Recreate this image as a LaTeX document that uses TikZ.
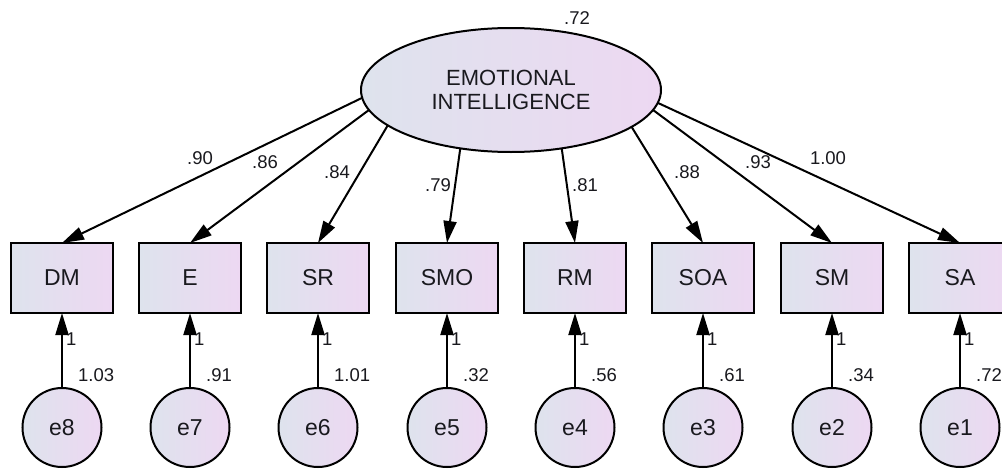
\documentclass[tikz,border=0pt]{standalone}
\usepackage{fontspec}
\setmainfont{Liberation Sans}
\usetikzlibrary{shapes.geometric,arrows.meta}
\definecolor{fillL}{RGB}{222,227,237}
\definecolor{fillR}{RGB}{237,216,242}
\definecolor{txt}{RGB}{25,25,30}
\begin{document}
\begin{tikzpicture}[x=1pt,y=-1pt,
  shaded/.style={draw=black,line width=2pt,inner sep=0pt,outer sep=0pt,left color=fillL,right color=fillR,text=txt},
  obs/.style={shaded,rectangle,minimum width=102pt,minimum height=70pt,font=\fontsize{23}{25}\selectfont},
  err/.style={shaded,circle,minimum size=79pt,font=\fontsize{23}{25}\selectfont},
  lat/.style={shaded,ellipse,minimum width=300pt,minimum height=124pt,align=center,font=\fontsize{22}{24}\selectfont},
  lab/.style={inner sep=0pt,text=txt,font=\fontsize{18.5}{20}\selectfont},
  path/.style={line width=2pt,-{Triangle[length=22pt,width=13pt]}}]
\useasboundingbox[fill=white] (0,0) rectangle (1002,471);
% latent
\node[lat] (EI) at (511,90) {EMOTIONAL\\INTELLIGENCE};
\node[lab] (v0) at (577,18) {.72};
% observed
\node[obs] (DM)  at (62,278)  {DM};
\node[obs] (E)   at (190,278) {E};
\node[obs] (SR)  at (318,278) {SR};
\node[obs] (SMO) at (447,278) {SMO};
\node[obs] (RM)  at (575,278) {RM};
\node[obs] (SOA) at (703,278) {SOA};
\node[obs] (SM)  at (832,278) {SM};
\node[obs] (SA)  at (960,278) {SA};
% errors
\node[err] (e8) at (62,427.5)  {e8};
\node[err] (e7) at (190,427.5) {e7};
\node[err] (e6) at (318,427.5) {e6};
\node[err] (e5) at (447,427.5) {e5};
\node[err] (e4) at (575,427.5) {e4};
\node[err] (e3) at (703,427.5) {e3};
\node[err] (e2) at (832,427.5) {e2};
\node[err] (e1) at (960,427.5) {e1};
% loadings
\draw[path] (EI.183.9) -- (DM.north);
\draw[path] (EI.188)   -- (E.north);
\draw[path] (EI.196.7) -- (SR.north);
\draw[path] (EI.229.8) -- (SMO.north);
\draw[path] (EI.311.3) -- (RM.north);
\draw[path] (EI.343.1) -- (SOA.north);
\draw[path] (EI.352.8) -- (SM.north);
\draw[path] (EI.355)   -- (SA.north);
\node[lab] (l1) at (200,158) {.90};
\node[lab] (l2) at (265,162) {.86};
\node[lab] (l3) at (337,172) {.84};
\node[lab] (l4) at (438,185) {.79};
\node[lab] (l5) at (585,185) {.81};
\node[lab] (l6) at (687,172) {.88};
\node[lab] (l7) at (758,162) {.93};
\node[lab] (l8) at (828,158) {1.00};
% error paths
\foreach \e/\o/\x/\v in {e8/DM/62/1.03, e7/E/190/.91, e6/SR/318/1.01, e5/SMO/447/.32, e4/RM/575/.56, e3/SOA/703/.61, e2/SM/832/.34, e1/SA/960/.72}{
  \draw[path] (\e.north) -- (\o.south);
  \node[lab,anchor=west] (one\e) at (\x+4,339) {1};
  \node[lab,anchor=west] (var\e) at (\x+16,375) {\v};
}
\end{tikzpicture}
\end{document}
